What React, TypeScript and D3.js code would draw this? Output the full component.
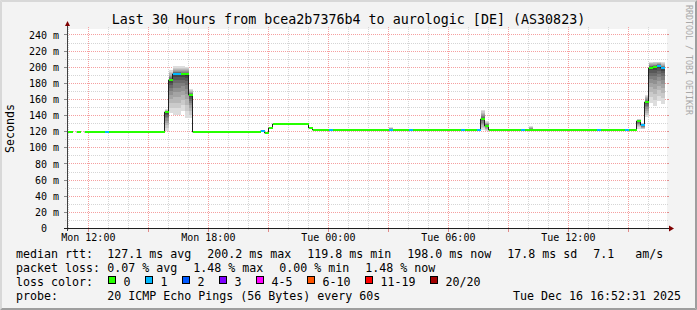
import React from 'react';
import * as d3 from 'd3';

// ---------------- data ----------------
const chartStart = Date.UTC(2025, 11, 15, 10, 56, 0);
const chartEnd = Date.UTC(2025, 11, 16, 16, 56, 0);
const firstSampleStart = Date.UTC(2025, 11, 15, 10, 50, 0);
const sampleStepMs = 12 * 60 * 1000;

// run-length encoded median rtt (ms) and lost pings (of 20)
const runLength = [2, 1, 1, 1, 5, 1, 14, 1, 1, 2, 2, 1, 17, 1, 1, 1, 9, 1, 4, 1, 14, 1, 4, 1, 12, 1, 3, 1, 1, 1, 8, 1, 18, 1, 6, 1, 2, 1, 1, 1, 1, 1, 1, 1, 1];
const runMedian = [120, NaN, 120, NaN, 120, 120, 120, 144, 184, 191.5, 191, 165, 120, 121, 119, 125, 129.5, 125, 122.5, 122.5, 122.5, 122.5, 122.5, 122.5, 122.5, 122.5, 122.5, 122.5, 136, 127.5, 122.5, 122.5, 122.5, 122.5, 122.5, 122.5, 122.5, 133, 128, 156.5, 199.5, 200, 202, 199, NaN];
const runLoss = [0, 0, 0, 0, 0, 1, 0, 0, 0, 1, 0, 0, 0, 1, 0, 0, 0, 0, 0, 1, 0, 1, 0, 1, 0, 1, 0, 1, 0, 0, 0, 1, 0, 1, 0, 1, 0, 0, 1, 0, 0, 0, 1, 1, 0];

// smoke (ping spread) for samples where it is visible
const smokeSample = [25, 26, 27, 28, 29, 30, 31, 81, 104, 105, 116, 143, 144, 145, 146, 147, 148, 149];
const smokeLow = [121, 143, 141, 141, 146, 137, 137, 122, 122, 121, 122, 124, 123, 138, 156, 152, 158, 155];
const smokeHigh = [148, 196, 201, 201, 201, 200, 173, 125.5, 147, 133, 126.5, 136, 131, 166, 207, 207, 207, 206];

const lossLabels = ['0', '1', '2', '3', '4-5', '6-10', '11-19', '20/20'];
const lossColors = ['#26ff00', '#00b8ff', '#0059ff', '#7e00ff', '#ff00ff', '#ff5500', '#ff0000', '#a10000'];
const lossUpper = [0, 1, 2, 3, 5, 10, 19, 20];

const yTickValues = [0, 20, 40, 60, 80, 100, 120, 140, 160, 180, 200, 220, 240];
const yMinorValues = [10, 30, 50, 70, 90, 110, 130, 150, 170, 190, 210, 230];

const titleText = 'Last 30 Hours from bcea2b7376b4 to aurologic [DE] (AS30823)';
const rttLegend = ['127.1 ms avg', '200.2 ms max', '119.8 ms min', '198.0 ms now', '17.8 ms sd', '7.1   am/s'];
const lossLegend = ['0.07 % avg', '1.48 % max', '0.00 % min', '1.48 % now'];
const probeText = '20 ICMP Echo Pings (56 Bytes) every 60s';
const dateText = 'Tue Dec 16 16:52:31 2025';

// ---------------- layout ----------------
const W = 697;
const H = 310;
const PL = 67;
const PR = 667;
const PT = 29;
const PB = 228.5;
const FONT = "'DejaVu Sans Mono', monospace";
const CW = 7; // legend char width

export default function App() {
  const x = d3.scaleUtc().domain([chartStart, chartEnd]).range([PL, PR]);
  const y = d3.scaleLinear().domain([0, 247.4]).range([PB, PT]);

  // expand runs
  const medians: number[] = [];
  const losses: number[] = [];
  runLength.forEach((n, i) => {
    for (let j = 0; j < n; j++) {
      medians.push(runMedian[i]);
      losses.push(runLoss[i]);
    }
  });
  const sx0 = (k: number) => x(new Date(firstSampleStart + k * sampleStepMs));
  const sx1 = (k: number) => x(new Date(firstSampleStart + (k + 1) * sampleStepMs));

  // median line points
  const pts: [number, number][] = [];
  medians.forEach((v, k) => {
    pts.push([sx0(k) - 0.5, v]);
    pts.push([sx1(k) - 0.5, v]);
  });
  const line = d3
    .line<[number, number]>()
    .defined((d) => !isNaN(d[1]))
    .x((d) => d[0])
    .y((d) => Math.round(y(d[1])));
  const medPath = line(pts) || '';

  // smoke bands
  const half = 10;
  const smokeRects: JSX.Element[] = [];
  for (let b = 1; b <= half; b++) {
    const c = Math.floor((190 / half) * (half - b)) + 50;
    const col = `rgb(${c},${c},${c})`;
    const f = Math.pow((half + 1 - b) / half, 1.6);
    smokeSample.forEach((k, i) => {
      const m = medians[k];
      const lo = m - (m - smokeLow[i]) * f;
      const hi = m + (smokeHigh[i] - m) * f;
      smokeRects.push(
        <rect key={`s${b}-${k}`} x={sx0(k)} width={sx1(k) - sx0(k)} y={y(hi)} height={y(lo) - y(hi)} fill={col} />
      );
    });
  }

  const hourTicks = d3.utcHour.every(1)!.range(new Date(chartStart), new Date(chartEnd));
  const majorTicks = hourTicks.filter((d) => d.getUTCHours() % 3 === 0);
  const minorTicks = hourTicks.filter((d) => d.getUTCHours() % 3 !== 0);
  const labelTicks = hourTicks.filter((d) => d.getUTCHours() % 6 === 0);
  const fmt = d3.utcFormat('%a %H:%M');

  const px = (v: number) => Math.floor(v) + 0.5;

  const gridMinor = '#d5d5d5';
  const gridMajor = '#f5a0a0';

  // legend chunk positions
  const chunkX = (arr: string[]) => {
    const xs: number[] = [];
    let cx = 107.3;
    arr.forEach((s) => {
      xs.push(cx);
      cx += s.length * CW + 16;
    });
    return xs;
  };
  const rttX = chunkX(rttLegend);
  const lossX = chunkX(lossLegend);
  const boxX: number[] = [];
  {
    let bx = 108.5;
    lossLabels.forEach((l) => {
      boxX.push(bx);
      bx += 30 + CW * l.length;
    });
  }

  return (
    <>
      <style>{'body{margin:0}'}</style>
      <svg width={W} height={H} viewBox={`0 0 ${W} ${H}`} style={{ display: 'block' }} fontFamily={FONT}>
        <rect x={0} y={0} width={W} height={H} fill="#f3f3f3" />
        {/* frame shading */}
        <polygon points={`0,0 ${W},0 ${W - 2},2 2,2`} fill="#d8d8d8" />
        <polygon points={`0,0 2,2 2,${H - 2} 0,${H}`} fill="#d8d8d8" />
        <polygon points={`0,${H} ${W},${H} ${W - 2},${H - 2} 2,${H - 2}`} fill="#9e9e9e" />
        <polygon points={`${W},0 ${W},${H} ${W - 2},${H - 2} ${W - 2},2`} fill="#9e9e9e" />

        {/* plot background */}
        <rect x={PL} y={PT} width={PR - PL} height={PB - PT} fill="#ffffff" />

        {/* grid */}
        <g shapeRendering="crispEdges" strokeWidth={1} strokeDasharray="1,1">
          {yMinorValues.map((v) => (
            <line key={`ym${v}`} x1={PL - 2} x2={PR + 2} y1={px(y(v))} y2={px(y(v))} stroke={gridMinor} />
          ))}
          {minorTicks.map((d) => (
            <line key={`xm${+d}`} x1={px(x(d))} x2={px(x(d))} y1={PT - 2} y2={PB + 2} stroke={gridMinor} />
          ))}
          {yTickValues.filter((v) => v > 0).map((v) => (
            <line key={`yM${v}`} x1={PL - 2} x2={PR + 2} y1={px(y(v))} y2={px(y(v))} stroke={gridMajor} />
          ))}
          {majorTicks.map((d) => (
            <line key={`xM${+d}`} x1={px(x(d))} x2={px(x(d))} y1={PT - 2} y2={PB + 2} stroke={gridMajor} />
          ))}
        </g>
        {/* ticks */}
        <g shapeRendering="crispEdges" strokeWidth={1}>
          {yTickValues.filter((v) => v > 0).map((v) => (
            <g key={`yt${v}`}>
              <line x1={PL - 3} x2={PL} y1={px(y(v))} y2={px(y(v))} stroke="#8a8a8a" />
              <line x1={PR} x2={PR + 2} y1={px(y(v))} y2={px(y(v))} stroke="#e09090" />
            </g>
          ))}
          {majorTicks.map((d) => (
            <line key={`xt${+d}`} x1={px(x(d))} x2={px(x(d))} y1={PB} y2={PB + 3} stroke="#e08a8a" />
          ))}
        </g>

        {/* data */}
        <defs>
          <clipPath id="plotClip">
            <rect x={PL} y={PT - 5} width={PR - PL} height={PB - PT + 5} />
          </clipPath>
        </defs>
        <g clipPath="url(#plotClip)">
          <g shapeRendering="crispEdges">{smokeRects}</g>
          <path d={medPath} fill="none" stroke="#202020" strokeWidth={1} />
          <g shapeRendering="crispEdges">
            {medians.map((v, k) => {
              if (isNaN(v)) return null;
              const ci = lossUpper.findIndex((u) => losses[k] <= u);
              const yc = Math.round(y(v));
              return <rect key={`m${k}`} x={sx0(k)} width={sx1(k) - sx0(k)} y={yc - 1} height={2} fill={lossColors[ci]} />;
            })}
          </g>
        </g>

        {/* axes */}
        <g shapeRendering="crispEdges">
          <line x1={PL + 0.5} x2={PL + 0.5} y1={PB + 2} y2={PT - 4} stroke="#404040" />
          <line x1={PL - 3} x2={PR + 3} y1={PB} y2={PB} stroke="#202020" />
        </g>
        <polygon points={`${PL - 2},${PT - 3} ${PL + 3},${PT - 3} ${PL + 0.5},${PT - 8}`} fill="#7f0000" />
        <polygon points={`${PR + 2},${PB - 3} ${PR + 2},${PB + 3} ${PR + 7},${PB}`} fill="#7f0000" />

        {/* title */}
        <text x={348.5} y={24} fontSize={13.33} textAnchor="middle" fill="#000">
          {titleText}
        </text>
        {/* y axis title */}
        <text transform="translate(14,128.5) rotate(-90)" fontSize={11.63} textAnchor="middle" fill="#000">
          Seconds
        </text>
        {/* watermark */}
        <text transform="translate(685.7,5) rotate(90)" fontSize={8.3} fill="#a8a8a8">
          RRDTOOL / TOBI OETIKER
        </text>

        {/* y labels */}
        {yTickValues.map((v) => (
          <text
            key={`yl${v}`}
            x={v === 0 ? 47 : 59}
            y={y(v) + 3.6}
            fontSize={10}
            textAnchor="end"
            fill="#000"
          >
            {v === 0 ? '0' : `${v} m`}
          </text>
        ))}
        {/* x labels */}
        {labelTicks.map((d) => (
          <text key={`xl${+d}`} x={x(d)} y={241} fontSize={10} textAnchor="middle" fill="#000">
            {fmt(d)}
          </text>
        ))}

        {/* legend */}
        <g fontSize={11.63} fill="#000" style={{ whiteSpace: 'pre' }}>
          <text x={16} y={258}>median rtt:</text>
          {rttLegend.map((s, i) => (
            <text key={`r${i}`} x={rttX[i]} y={258} xmlSpace="preserve">
              {s}
            </text>
          ))}
          <text x={16} y={272}>packet loss:</text>
          {lossLegend.map((s, i) => (
            <text key={`l${i}`} x={lossX[i]} y={272} xmlSpace="preserve">
              {s}
            </text>
          ))}
          <text x={16} y={286}>loss color:</text>
          {lossLabels.map((l, i) => (
            <g key={`lc${i}`}>
              <rect
                x={Math.floor(boxX[i]) + 0.5}
                y={276.5}
                width={7}
                height={7}
                fill={lossColors[i]}
                stroke="#000"
                strokeWidth={1}
                shapeRendering="crispEdges"
              />
              <text x={boxX[i] + 15} y={286}>
                {l}
              </text>
            </g>
          ))}
          <text x={16} y={300}>probe:</text>
          <text x={107.3} y={300}>{probeText}</text>
          <text x={681} y={300} textAnchor="end">
            {dateText}
          </text>
        </g>
      </svg>
    </>
  );
}
